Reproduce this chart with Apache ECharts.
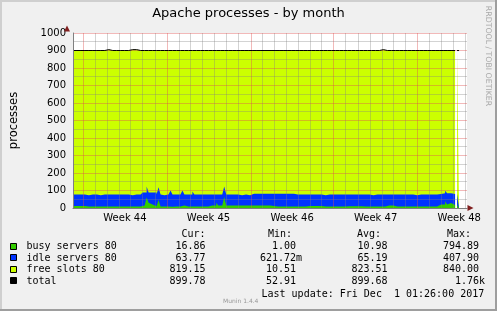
<!DOCTYPE html>
<html><head><meta charset="utf-8">
<script src="https://cdn.jsdelivr.net/npm/echarts@6/dist/echarts.min.js"></script>
<style>html,body{margin:0;padding:0;background:#F0F0F0;}#c{width:497px;height:311px;}</style>
</head><body><div id="c"></div>
<script>
// ---- data (4-hour samples, hours counted from the left edge of the graph) ----
const STEP_H = 4;
const SPAN_H = 792; // 33 days shown
const busy = [
 12,12,12,12,12,12,8,8,8,8,
 8,9,8,8,8,8,9,8,8,8,
 8,8,9,8,8,8,8,8,9,8,
 8,8,8,8,9,15,25,60,30,20,
 15,10,8,46,8,9,9,9,9,7,
 9,9,9,9,8,14,9,9,9,9,
 10,9,9,9,9,9,9,8,15,15,
 15,15,30,15,15,16,63,14,14,15,
 14,14,15,14,14,14,15,14,14,14,
 14,15,14,14,14,14,15,14,14,14,
 12,8,8,8,8,8,8,8,8,8,
 8,8,8,8,8,8,8,8,12,12,
 12,12,12,12,12,12,8,8,8,8,
 8,8,8,8,8,8,8,8,10,10,
 10,10,10,10,10,10,8,8,8,12,
 9,9,9,9,9,9,9,15,15,15,
 15,15,9,9,9,9,9,9,9,9,
 9,9,9,9,9,9,9,9,9,9,
 9,9,9,20,20,20,20,38,20,28,
 17,16.86,null,16.86,16.86];
const idle = [
 65,65,65,65,65,65,69,65,69,69,
 69,68,69,65,69,69,68,69,69,69,
 69,69,68,69,65,69,69,69,68,65,
 69,69,69,69,68,74,64,63,59,69,
 74,79,69,72,69,64,68,68,68,93,
 68,68,68,68,69,86,68,68,64,68,
 85,68,68,68,68,68,68,80,62,62,
 62,73,47,72,62,61,60,63,63,58,
 63,63,62,63,59,63,62,63,59,63,
 68,67,68,68,68,68,67,68,68,68,
 70,74,74,70,74,74,74,74,74,74,
 74,69,69,69,69,65,69,69,65,65,
 65,65,65,65,65,65,65,69,69,69,
 69,69,69,69,69,69,69,65,67,67,
 67,63,67,67,67,67,69,69,69,65,
 64,68,68,68,68,68,68,62,62,62,
 62,62,68,68,68,64,68,68,68,68,
 68,68,64,68,68,68,68,68,68,68,
 68,68,68,63,60,65,65,61,65,57,
 68,63.77,null,63.77,63.77];
const free = [
 823,823,823,823,823,823,823,827,823,823,
 823,823,823,827,828,823,823,828,823,823,
 828,823,823,823,832,823,823,823,823,832,
 823,828,823,823,823,811,811,777,811,811,
 811,811,823,782,823,827,823,823,823,800,
 823,823,823,823,823,800,823,823,827,823,
 805,823,823,823,823,823,823,812,823,823,
 823,812,823,813,823,823,777,823,823,827,
 823,823,823,823,827,823,823,823,827,823,
 818,818,818,818,818,818,818,818,818,818,
 818,818,818,822,818,818,818,818,818,818,
 818,823,823,823,823,827,823,823,823,823,
 823,823,823,823,823,823,827,823,823,823,
 823,823,823,823,823,823,823,827,823,823,
 823,827,823,823,823,823,823,823,823,823,
 827,823,823,823,823,828,823,823,823,823,
 823,823,823,823,823,827,823,823,828,823,
 823,823,827,823,823,823,828,823,828,823,
 823,823,823,817,820,815,815,801,815,815,
 815,819.15,null,819.15,819.15];

const weekLabels = ['Week 44','Week 45','Week 46','Week 47','Week 48'];
const yTickValues = [0,100,200,300,400,500,600,700,800,900,1000];
const FIRST_MIDNIGHT_H = 20.4;   // first Monday 00:00, hours after graph start
const seriesNames = ['busy servers 80','idle servers 80','free slots 80','total'];
const curVals = ['16.86','63.77','819.15','899.78'];
const minVals = ['1.00','621.72m','10.51','52.91'];
const avgVals = ['10.98','65.19','823.51','899.68'];
const maxVals = ['794.89','407.90','840.00','1.76k'];
const lastUpdate = 'Last update: Fri Dec  1 01:26:00 2017';

// ---- styles / layout ----
const COLORS = ['#33CC00','#0033FF','#CCFF00','#000000'];
const GRID_C = 'rgba(130,130,130,0.35)';
const MGRID_C = 'rgba(222,79,79,0.4)';
const ARROW_C = '#801F1F';
const AXIS_C = '#808080';
const MONO = '"DejaVu Sans Mono", monospace';
const SANS = '"DejaVu Sans", sans-serif';
const PLOT = {left:67, top:33, width:400, height:175};
const Y_MAX = 1000;

// ---- derived ----
const hours = busy.map((_, i) => i * STEP_H);
const cumIdle = busy.map((b, i) => b == null ? null : b + idle[i]);
const cumFree = cumIdle.map((v, i) => v == null ? null : v + free[i]);
const pairs = arr => arr.map((v, i) => [hours[i], v == null ? '-' : v]);
const weekCenters = weekLabels.map((_, k) => FIRST_MIDNIGHT_H + 84 + 168 * k);
// grid lines snapped to pixel centres (as rrdtool does)
const snapH = h => { const px = PLOT.left + h * PLOT.width / SPAN_H; return (Math.floor(px) + 0.5 - PLOT.left) * SPAN_H / PLOT.width; };
const snapV = v => { const py = PLOT.top + (Y_MAX - v) * PLOT.height / Y_MAX; return Y_MAX - (Math.floor(py) + 0.5 - PLOT.top) * Y_MAX / PLOT.height; };
const gridMarks = [];
for (let h = FIRST_MIDNIGHT_H, d = 0; h <= SPAN_H; h += 24, d++)
  gridMarks.push({xAxis: snapH(h), lineStyle:{color: d % 7 === 0 ? MGRID_C : GRID_C, type:'solid', width:1}});
for (let v = 50; v <= Y_MAX; v += 50)
  gridMarks.push({yAxis: snapV(v), lineStyle:{color: v % 100 === 0 ? MGRID_C : GRID_C, type:'solid', width:1}});

function areaSeries(name, data, color) {
  return {name, type:'line', data: pairs(data), step:'end', symbol:'none', showSymbol:false,
    lineStyle:{width:0}, areaStyle:{color, opacity:1}, z:1, silent:true, clip:true};
}
function fmt(s) {
  const m = s.match(/^([\d.]+)([a-zA-Z]?)$/);
  return m[1].padStart(6, ' ') + (m[2] || ' ');
}

const graphic = [];
graphic.push({type:'rect', shape:{x:0,y:0,width:497,height:2}, style:{fill:'#CFCFCF'}, silent:true});
graphic.push({type:'rect', shape:{x:0,y:0,width:2,height:311}, style:{fill:'#CFCFCF'}, silent:true});
graphic.push({type:'rect', shape:{x:0,y:309,width:497,height:2}, style:{fill:'#9E9E9E'}, silent:true});
graphic.push({type:'rect', shape:{x:495,y:0,width:2,height:311}, style:{fill:'#9E9E9E'}, silent:true});
graphic.push({type:'text', x:248.5, y:13.5, style:{text:'Apache processes - by month', fontFamily:SANS, fontSize:13, fill:'#000', align:'center', verticalAlign:'middle'}});
graphic.push({type:'text', x:488.5, y:56, rotation:-Math.PI/2, style:{text:'RRDTOOL / TOBI OETIKER', fontFamily:SANS, fontSize:7.8, fill:'#A8A8A8', align:'center', verticalAlign:'middle'}});
graphic.push({type:'polygon', shape:{points:[[67,25.5],[64,31.5],[70,31.5]]}, style:{fill:ARROW_C}, z:10});
graphic.push({type:'polygon', shape:{points:[[473.5,208],[467.5,205],[467.5,211]]}, style:{fill:ARROW_C}, z:10});
const rowY = [246.5, 258, 269.5, 281];
const hdrY = 234.5;
graphic.push({type:'text', x:205.5, y:hdrY, style:{text:'Cur:', fontFamily:MONO, fontSize:10, fill:'#000', align:'right', verticalAlign:'middle'}});
graphic.push({type:'text', x:268, y:hdrY, style:{text:'Min:', fontFamily:MONO, fontSize:10, fill:'#000', align:'left', verticalAlign:'middle'}});
graphic.push({type:'text', x:357, y:hdrY, style:{text:'Avg:', fontFamily:MONO, fontSize:10, fill:'#000', align:'left', verticalAlign:'middle'}});
graphic.push({type:'text', x:447, y:hdrY, style:{text:'Max:', fontFamily:MONO, fontSize:10, fill:'#000', align:'left', verticalAlign:'middle'}});
const colX = [169.5, 260, 351.5, 443];
seriesNames.forEach((n, r) => {
  const y = rowY[r];
  graphic.push({type:'rect', shape:{x:10.5, y:Math.round(y)-3.5, width:6, height:6}, style:{fill:COLORS[r], stroke:'#000', lineWidth:1}});
  graphic.push({type:'text', x:26.5, y, style:{text:n, fontFamily:MONO, fontSize:10, fill:'#000', align:'left', verticalAlign:'middle'}});
  [curVals, minVals, avgVals, maxVals].forEach((arr, c) => {
    graphic.push({type:'text', x:colX[c], y, style:{text:fmt(arr[r]), fontFamily:MONO, fontSize:10, fill:'#000', align:'left', verticalAlign:'middle'}});
  });
});
graphic.push({type:'text', x:261.5, y:294, style:{text:lastUpdate, fontFamily:MONO, fontSize:10, fill:'#000', align:'left', verticalAlign:'middle'}});
graphic.push({type:'text', x:223, y:301, style:{text:'Munin 1.4.4', fontFamily:SANS, fontSize:6, fill:'#999', align:'left', verticalAlign:'middle'}});

const option = {
  animation:false,
  backgroundColor:'#F0F0F0',
  grid:{left:PLOT.left, top:PLOT.top, width:PLOT.width, height:PLOT.height, show:true, backgroundColor:'#FFFFFF', borderWidth:0},
  xAxis:{type:'value', min:0, max:SPAN_H, z:6,
    axisLine:{show:true, onZero:false, lineStyle:{color:AXIS_C, width:1}},
    axisTick:{show:false}, splitLine:{show:false},
    axisLabel:{customValues: weekCenters, fontFamily:SANS, fontSize:10, color:'#000', margin:5,
      formatter: v => { let k = 0, best = 1e9; weekCenters.forEach((c, i) => { const d = Math.abs(c - v); if (d < best) { best = d; k = i; } }); return weekLabels[k]; }}},
  yAxis:{type:'value', min:0, max:Y_MAX, z:6,
    name:'processes', nameLocation:'middle', nameGap:53, nameRotate:90,
    nameTextStyle:{fontFamily:SANS, fontSize:11.5, color:'#000'},
    axisLine:{show:true, lineStyle:{color:AXIS_C, width:1}},
    axisTick:{show:false}, splitLine:{show:false},
    axisLabel:{customValues: yTickValues, fontFamily:SANS, fontSize:10, color:'#000', margin:7, formatter: v => String(v)}},
  series:[
    areaSeries(seriesNames[2], cumFree, COLORS[2]),
    areaSeries(seriesNames[1], cumIdle, COLORS[1]),
    areaSeries(seriesNames[0], busy, COLORS[0]),
    {name:'grid', type:'line', data:[], z:4, silent:true,
      markLine:{silent:true, symbol:['none','none'], label:{show:false}, animation:false, precision:6, z:4,
        emphasis:{disabled:true}, data: gridMarks}},
    {name:seriesNames[3], type:'line', data:pairs(cumFree), step:'end', symbol:'none', showSymbol:false,
      lineStyle:{color:COLORS[3], width:1}, z:5, silent:true}
  ],
  graphic
};
const chart = echarts.init(document.getElementById('c'), null, {renderer:'canvas', width:497, height:311});
chart.setOption(option);
</script></body></html>
